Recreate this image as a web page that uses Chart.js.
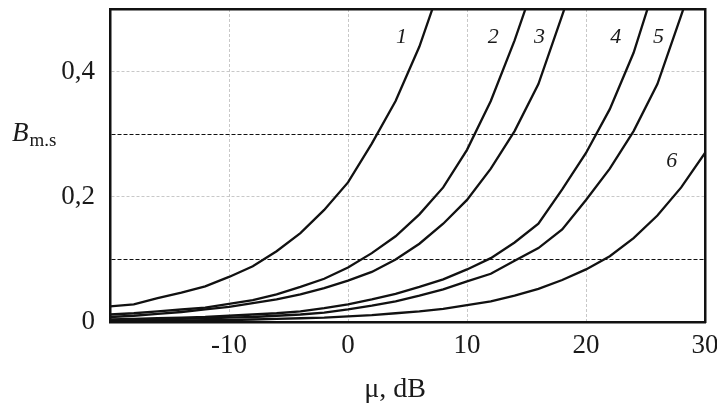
<!DOCTYPE html>
<html>
<head>
<meta charset="utf-8">
<script src="https://cdn.jsdelivr.net/npm/chart.js@4.4.0/dist/chart.umd.min.js"></script>
<style>
  html, body { margin: 0; background: #fff; }
</style>
</head>
<body>
<canvas id="chart" width="717" height="406"></canvas>
<script>
// mu, dB (2 dB step)
const mu = [-20, -18, -16, -14, -12, -10, -8, -6, -4, -2, 0, 2, 4, 6, 8, 10, 12, 14, 16, 18, 20, 22, 24, 26, 28, 30];

// B m.s for curves 1..6
const curve1 = [0.025, 0.028, 0.038, 0.047, 0.057, 0.072, 0.089, 0.113, 0.142, 0.179, 0.223, 0.285, 0.353, 0.44, 0.55];
const curve2 = [0.012, 0.014, 0.017, 0.020, 0.023, 0.029, 0.035, 0.044, 0.056, 0.069, 0.087, 0.110, 0.137, 0.172, 0.215, 0.275, 0.353, 0.45, 0.56];
const curve3 = [0.008, 0.010, 0.013, 0.016, 0.020, 0.024, 0.030, 0.036, 0.044, 0.054, 0.066, 0.080, 0.100, 0.125, 0.157, 0.195, 0.245, 0.305, 0.38, 0.49, 0.60];
const curve4 = [0.004, 0.005, 0.006, 0.007, 0.008, 0.010, 0.012, 0.014, 0.017, 0.022, 0.028, 0.036, 0.045, 0.056, 0.068, 0.084, 0.102, 0.127, 0.157, 0.212, 0.27, 0.34, 0.43, 0.55];
const curve5 = [0.003, 0.003, 0.004, 0.005, 0.006, 0.007, 0.008, 0.010, 0.012, 0.015, 0.020, 0.026, 0.033, 0.042, 0.052, 0.065, 0.077, 0.098, 0.118, 0.148, 0.195, 0.245, 0.305, 0.38, 0.49, 0.60];
const curve6 = [0.001, 0.0015, 0.002, 0.002, 0.003, 0.003, 0.004, 0.005, 0.006, 0.007, 0.009, 0.011, 0.014, 0.017, 0.021, 0.027, 0.033, 0.042, 0.053, 0.067, 0.084, 0.105, 0.134, 0.170, 0.215, 0.270];

const curves = [curve1, curve2, curve3, curve4, curve5, curve6];
const curveNames = ["1", "2", "3", "4", "5", "6"];
// where the curve numbers sit (data coords)
const labelMu = [4.5, 12.2, 16.1, 22.5, 26.1, 27.2];
const labelB = [0.455, 0.455, 0.455, 0.455, 0.455, 0.257];

const xTicks = [-10, 0, 10, 20, 30];
const yTickText = { 0: "0", 2: "0,2", 4: "0,4" };

const serif = "'Liberation Serif', 'DejaVu Serif', serif";

const noPad = s => { s.paddingTop = 0; s.paddingBottom = 0; s.paddingLeft = 0; s.paddingRight = 0; };

const textPlugin = {
  id: "texts",
  afterDraw(chart) {
    const { ctx, scales } = chart;
    const x = scales.x, y = scales.y;
    ctx.save();
    ctx.fillStyle = "#1a1a1a";
    ctx.textAlign = "center";
    ctx.textBaseline = "middle";
    ctx.font = "italic 22px " + serif;
    curveNames.forEach((n, i) => {
      ctx.fillText(n, x.getPixelForValue(labelMu[i]), y.getPixelForValue(labelB[i]));
    });
    // y title B m.s
    ctx.textAlign = "left";
    ctx.textBaseline = "alphabetic";
    ctx.font = "italic 27px " + serif;
    ctx.fillText("B", 12, 141);
    const w = ctx.measureText("B").width;
    ctx.font = "19px " + serif;
    ctx.fillText("m.s", 12 + w + 1, 146);
    // x title
    ctx.textAlign = "center";
    ctx.font = "28px " + serif;
    ctx.fillText("\u03bc, dB", 395, 397);
    ctx.restore();
  }
};

new Chart(document.getElementById("chart"), {
  type: "line",
  data: {
    datasets: curves.map(c => ({
      data: c.map((v, i) => ({ x: mu[i], y: v })),
      borderColor: "#111",
      borderWidth: 2.3,
      pointRadius: 0,
      tension: 0,
      fill: false
    }))
  },
  options: {
    responsive: false,
    animation: false,
    layout: { padding: 0 },
    plugins: { legend: { display: false }, tooltip: { enabled: false } },
    scales: {
      x: {
        type: "linear",
        position: "bottom",
        min: -20,
        max: 30,
        afterFit: s => { s.height = 84; noPad(s); },
        afterBuildTicks: s => { s.ticks = [-20].concat(xTicks).map(v => ({ value: v })); },
        ticks: {
          padding: 8,
          color: "#1a1a1a",
          font: { family: serif, size: 27 },
          callback: v => (xTicks.includes(v) ? String(v) : "")
        },
        grid: {
          drawTicks: false,
          lineWidth: 1,
          color: c => (c.tick && (c.tick.value === -20 || c.tick.value === 30) ? "rgba(0,0,0,0)" : "#c8c8c8")
        },
        border: { display: true, color: "#111", width: 2.5, dash: c => (c.tick ? [3, 2] : []) }
      },
      xTop: {
        type: "linear",
        position: "top",
        min: -20,
        max: 30,
        afterFit: s => { s.height = 9; noPad(s); },
        ticks: { display: false },
        grid: { display: false },
        border: { display: true, color: "#111", width: 2.5 }
      },
      y: {
        type: "linear",
        position: "left",
        min: 0,
        max: 0.5,
        afterFit: s => { s.width = 110; noPad(s); },
        ticks: {
          stepSize: 0.1,
          padding: 15,
          color: "#1a1a1a",
          font: { family: serif, size: 27 },
          callback: v => yTickText[Math.round(v * 10)] || ""
        },
        grid: {
          drawTicks: false,
          lineWidth: 1,
          color: c => {
            if (!c.tick) return "#c8c8c8";
            const k = Math.round(c.tick.value * 10);
            if (k === 1 || k === 3) return "#111";
            if (k === 2 || k === 4) return "#c8c8c8";
            return "rgba(0,0,0,0)";
          }
        },
        border: {
          display: true, color: "#111", width: 2.5,
          dash: c => {
            if (!c.tick) return [];
            const k = Math.round(c.tick.value * 10);
            return (k === 1 || k === 3) ? [4, 2] : [3, 2];
          }
        }
      },
      yRight: {
        type: "linear",
        position: "right",
        min: 0,
        max: 0.5,
        afterFit: s => { s.width = 12; noPad(s); },
        ticks: { display: false },
        grid: { display: false },
        border: { display: true, color: "#111", width: 2.5 }
      }
    }
  },
  plugins: [textPlugin]
});
</script>
</body>
</html>
